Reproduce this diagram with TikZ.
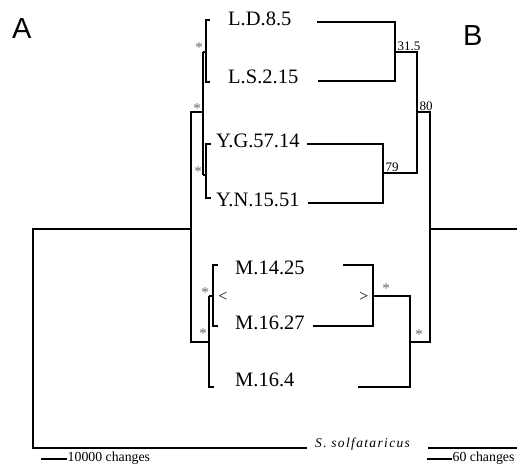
\documentclass[tikz,border=0pt]{standalone}
\usepackage{fontspec}
\setmainfont{Liberation Serif}
\newfontfamily\panelfont{Liberation Sans}
\definecolor{astgray}{HTML}{666666}
\begin{document}
\begin{tikzpicture}[x=1pt,y=-1pt,
  tree/.style={draw=black, line width=1.8pt, line join=miter},
  leaf/.style={font=\fontsize{20.5}{21}\selectfont, inner sep=0pt, anchor=west},
  supval/.style={font=\fontsize{13}{13}\selectfont, inner sep=0pt, anchor=south west},
  astk/.style={font=\fontsize{15}{15}\selectfont, text=astgray, inner sep=0pt, anchor=north},
  brk/.style={font=\fontsize{16}{16}\selectfont, inner sep=0pt},
  panel/.style={font=\panelfont\fontsize{29}{29}\selectfont, inner sep=0pt, anchor=base west},
  scalet/.style={font=\fontsize{13.8}{14}\selectfont, inner sep=0pt, anchor=base west}]
\useasboundingbox (0,0) rectangle (517,464);

% panel letters
\node[panel] (pA) at (12,38) {A};
\node[panel] (pB) at (463,45) {B};

% leaf labels
\node[leaf] (LD) at (228,18.5) {L.D.8.5};
\node[leaf] (LS) at (228,76.5) {L.S.2.15};
\node[leaf] (YG) at (216,141) {Y.G.57.14};
\node[leaf] (YN) at (216,200) {Y.N.15.51};
\node[leaf] (M1) at (235,268) {M.14.25};
\node[leaf] (M2) at (235,323) {M.16.27};
\node[leaf] (M3) at (235,380) {M.16.4};

% ---------------- tree A ----------------
\coordinate (A0) at (33,229);
\coordinate (A1) at (191,229);
\coordinate (Aout) at (307,448);
\draw[tree] (A1) -- (A0) |- (Aout);
\coordinate (Au) at (203,112);
\coordinate (Al) at (209,342);
\draw[tree] (Au) -| (191,342) -- (Al);
% upper clade
\coordinate (AuL) at (203,52);
\coordinate (AuY) at (203,175);
\draw[tree] (AuL) -- (Au) -- (AuY);
\draw[tree] (210,20) -| (206,82) -- (210,82);
\draw[tree] (AuL) -- (206,52);
\draw[tree] (211,144) -| (206,198) -- (211,198);
\draw[tree] (AuY) -- (206,175);
% lower clade
\coordinate (AM) at (209,296);
\draw[tree] (AM) -- (Al) -- (209,387) -- (214,387);
\draw[tree] (218,265) -| (213,326) -- (218,326);
\draw[tree] (AM) -- (213,296);

% asterisks A
\node[astk] (s1) at (199,42) {*};
\node[astk] (s2) at (197,103) {*};
\node[astk] (s3) at (198,166) {*};
\node[astk] (s4) at (205,287) {*};
\node[astk] (s5) at (203,328) {*};
\node[brk] (lt) at (223,297) {<};

% ---------------- tree B ----------------
\coordinate (BL) at (395,52);
\coordinate (BY) at (383,173);
\coordinate (BLY) at (417,112);
\coordinate (BM) at (373,296);
\coordinate (BMM) at (410,342);
\coordinate (Broot) at (430,229);
\draw[tree] (317,22) -| (395,81) -- (318,81);
\draw[tree] (BL) -| (417,173) -- (BY);
\draw[tree] (307,144) -| (383,203) -- (308,203);
\draw[tree] (BLY) -| (430,342) -- (BMM);
\draw[tree] (Broot) -- (517,229);
\draw[tree] (343,265) -| (373,326) -- (313,326);
\draw[tree] (BM) -| (410,387) -- (358,387);

\node[supval] (v1) at (397.5,50.5) {31.5};
\node[supval] (v2) at (419.5,110.5) {80};
\node[supval] (v3) at (385.5,171.5) {79};
\node[astk] (s6) at (386,283) {*};
\node[astk] (s7) at (419,329) {*};
\node[brk] (gt) at (364,297) {>};

% outgroup
\node[inner sep=0pt, anchor=base west, font=\fontsize{13.5}{13}\selectfont\itshape\addfontfeature{LetterSpace=10}] (sol) at (315,447) {S. solfataricus};
\coordinate (Bout) at (428,448);
\draw[tree] (Bout) -- (517,448);

% scale bars
\coordinate (sa1) at (41,459);
\node[scalet] (sa) at (67.5,461.5) {10000 changes};
\draw[tree] (sa1) -- (67,459);
\coordinate (sb1) at (427,459);
\node[scalet] (sb) at (452.5,461.5) {60 changes};
\draw[tree] (sb1) -- (452,459);
\end{tikzpicture}
\end{document}
